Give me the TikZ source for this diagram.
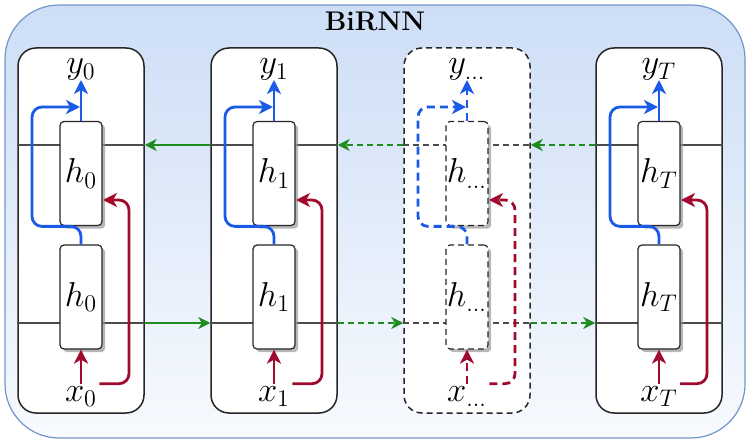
\documentclass[tikz,border=0pt]{standalone}
\usetikzlibrary{arrows.meta,shadows,calc}
\definecolor{bblue}{RGB}{25,90,230}
\definecolor{rred}{RGB}{160,10,45}
\definecolor{ggreen}{RGB}{30,140,30}
\definecolor{outerdraw}{RGB}{115,150,200}
\definecolor{outertop}{RGB}{205,222,246}
\definecolor{outerbot}{RGB}{247,250,254}
\begin{document}
\begin{tikzpicture}[x=0.5pt,y=-0.5pt,
  colbox/.style={draw=black!85,line width=0.75pt,rounded corners=9pt,fill=white,minimum width=63pt,minimum height=182.5pt,inner sep=0pt},
  hbox/.style={draw=black!85,line width=0.6pt,fill=white,rounded corners=2pt,minimum width=21pt,minimum height=52pt,inner sep=0pt,font=\fontsize{17}{20}\selectfont,drop shadow={shadow xshift=1.6pt,shadow yshift=-1.6pt,fill=black!40,opacity=0.7}},
  lbl/.style={font=\fontsize{17}{20}\selectfont,inner sep=1pt},
  rowline/.style={draw=black!70,line width=0.6pt},
  bpath/.style={bblue,line width=1.4pt,rounded corners=5pt},
  rpath/.style={rred,line width=1.4pt,rounded corners=5pt},
  pdash/.style={dash pattern=on 4pt off 2.5pt},
  tip/.style={-{Stealth[length=7pt,width=7pt,inset=2pt]}},
  gline/.style={ggreen,line width=0.7pt,-{Stealth[length=6pt,width=6pt,inset=1.8pt]}},
]
\useasboundingbox (0,0) rectangle (750,443);
\path[draw=outerdraw,line width=0.6pt,top color=outertop,bottom color=outerbot,rounded corners=27pt] (5,5) rectangle (745,438);
\node[font=\bfseries\fontsize{13.5}{16}\selectfont] (title) at (375,21) {BiRNN};
\foreach \i/\cx/\lab/\cd/\pd in {0/81/0/solid/solid, 1/274/1/solid/solid, 2/467/{\dots}/{densely dashed}/pdash, 3/659/T/solid/solid}{
  \node[colbox,\cd] (c\i) at (\cx,230.5) {};
  \coordinate (u\i) at (\cx,145);
  \coordinate (v\i) at (\cx,323);
  \draw[rowline,\cd] (c\i.west |- u\i) -- (c\i.east |- u\i);
  \draw[rowline,\cd] (c\i.west |- v\i) -- (c\i.east |- v\i);
  \node[hbox,\cd] (t\i) at (\cx,173.5) {$h_{\lab}$};
  \node[hbox,\cd] (b\i) at (\cx,297) {$h_{\lab}$};
  \node[lbl,anchor=base] (yl\i) at (\cx,74) {$y_{\lab}$};
  \node[lbl,anchor=base] (xl\i) at (\cx,401) {$x_{\lab}$};
  \coordinate (ya\i) at (\cx,80);
  \coordinate (bc\i) at (\cx-49,107);
  \coordinate (bt\i) at (\cx-1,107);
  \coordinate (rc\i) at (\cx+48,200);
  \coordinate (rt\i) at (\cx+22,200);
  \draw[bpath,\pd,tip] (b\i.north) -- ++(0,-18) -| (bc\i) -- (bt\i);
  \draw[bpath,\pd,tip] (t\i.north) -- (ya\i);
  \draw[rpath,\pd,tip] (xl\i.north) -- (b\i.south);
  \draw[rpath,\pd,tip] (xl\i.north east) -| (rc\i) -- (rt\i);
}
\draw[gline] (c1.west |- u1) -- (c0.east |- u0);
\draw[gline,densely dashed] (c2.west |- u2) -- (c1.east |- u1);
\draw[gline,densely dashed] (c3.west |- u3) -- (c2.east |- u2);
\draw[gline] (c0.east |- v0) -- (c1.west |- v1);
\draw[gline,densely dashed] (c1.east |- v1) -- (c2.west |- v2);
\draw[gline,densely dashed] (c2.east |- v2) -- (c3.west |- v3);
\end{tikzpicture}
\end{document}
